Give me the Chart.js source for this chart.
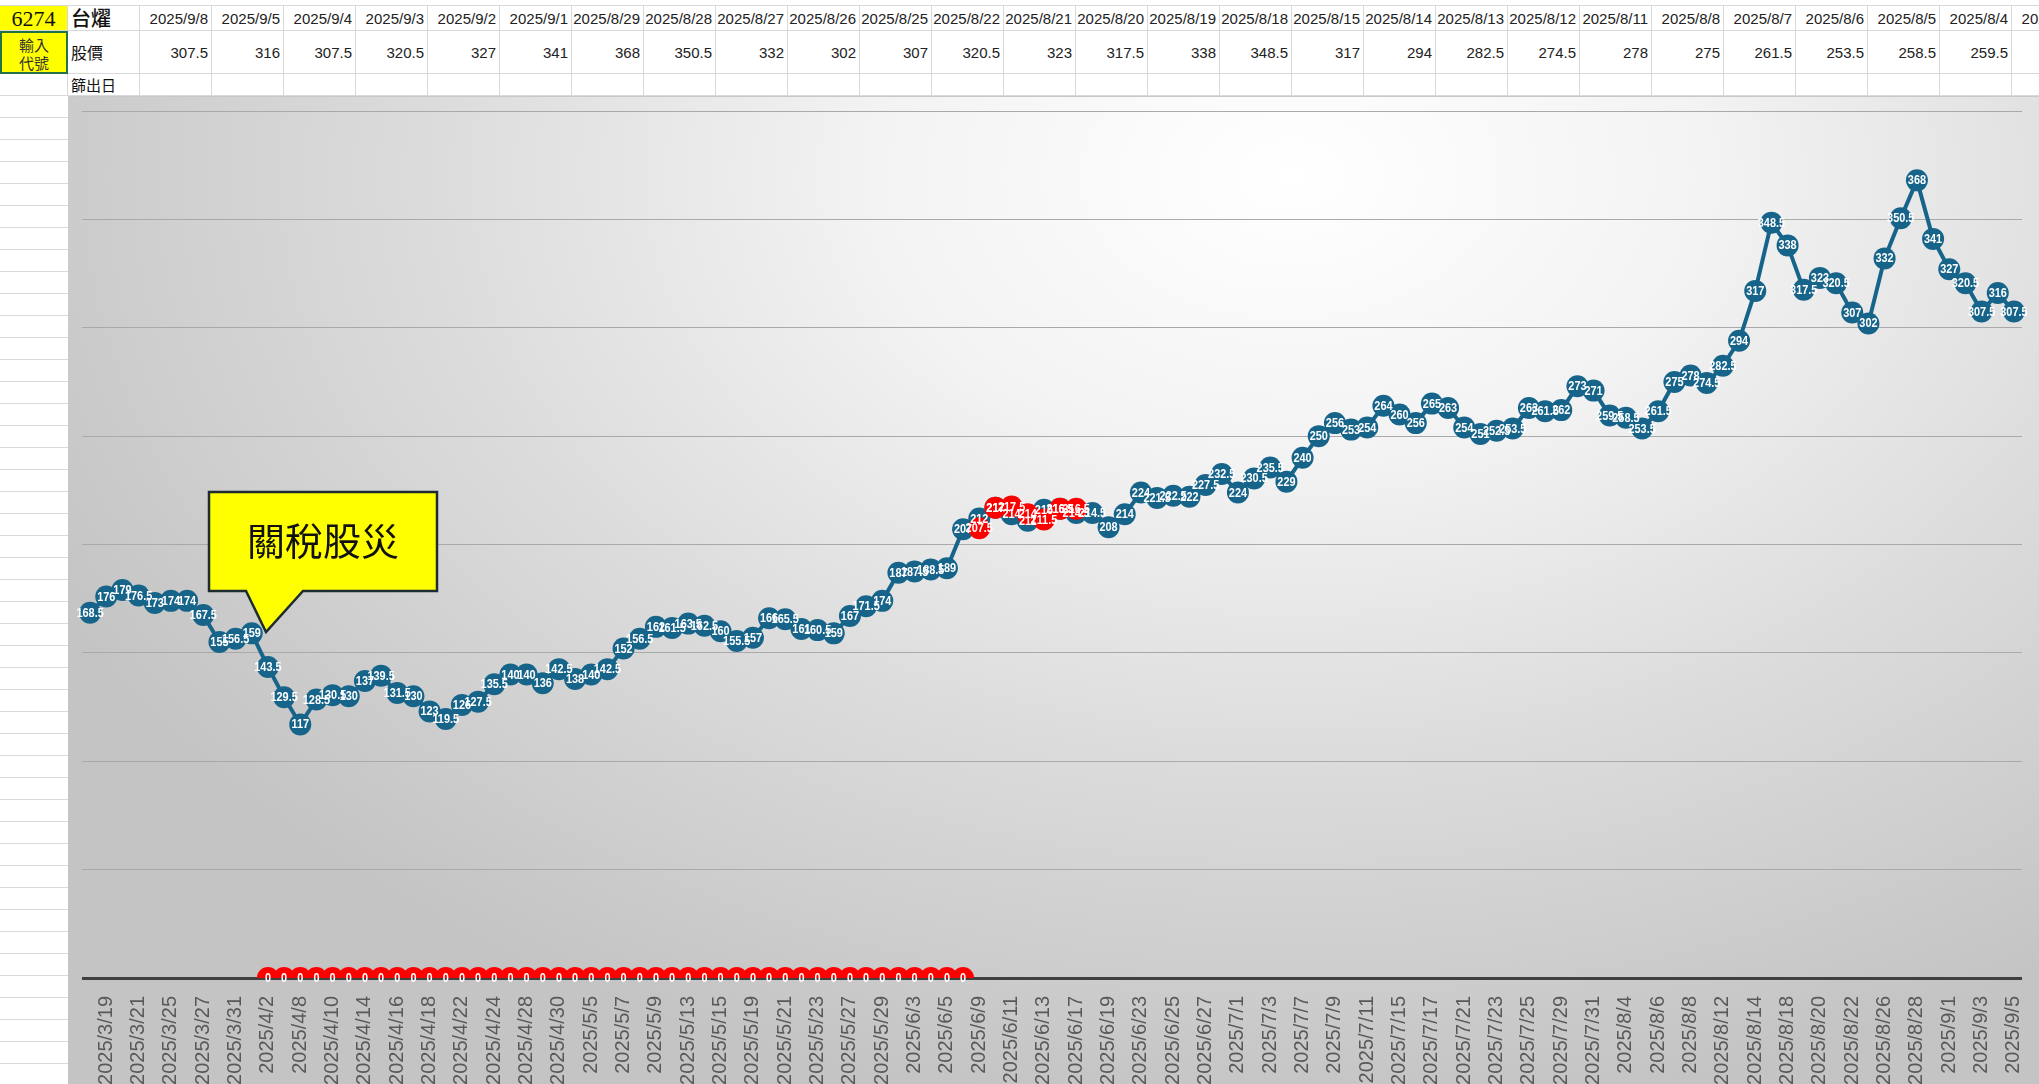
<!DOCTYPE html>
<html>
<head>
<meta charset="utf-8">
<script src="https://cdn.jsdelivr.net/npm/chart.js@4.4.1/dist/chart.umd.min.js"></script>
<style>
  html, body { margin: 0; padding: 0; background: #fff; overflow: hidden; }
  body { width: 2039px; height: 1084px; position: relative; font-family: "Liberation Sans", Arial, sans-serif; }
  .cell { position: absolute; box-sizing: border-box; border-right: 1px solid #d9d9d9; border-bottom: 1px solid #d9d9d9; white-space: nowrap; overflow: hidden; }
  .num { text-align: right; padding-right: 3px; font-family: "Liberation Sans", sans-serif; font-size: 15px; color: #222; }
  #leftcol { position: absolute; left: 0; top: 96px; width: 68px; height: 988px;
    background: repeating-linear-gradient(to bottom, #fff 0px, #fff 21px, #d9d9d9 21px, #d9d9d9 22px); }
  #chartbox { position: absolute; left: 68px; top: 96px; width: 1971px; height: 988px;
    background: radial-gradient(ellipse 70% 95% at 62% 8%, #ffffff 0%, #f3f3f3 30%, #dcdcdc 62%, #c4c4c4 100%);
    border-top: 1px solid #c8c8c8; box-sizing: border-box; }
  #callout { position: absolute; left: 0; top: 0; width: 2039px; height: 1084px; pointer-events: none; }
</style>
</head>
<body>
<div id="header"></div>
<div id="leftcol"></div>
<div id="chartbox"><canvas id="myChart" width="1971" height="987"></canvas></div>
<svg id="callout" width="2039" height="1084">
  <path d="M209,492 H437 V591 H303 L266,632 L246,591 H209 Z" fill="#ffff00" stroke="#1c2c30" stroke-width="2.5"/>
  <text x="323" y="555" text-anchor="middle" font-family="Noto Sans CJK TC" font-size="38" fill="#111">關稅股災</text>
</svg>
<script>
// 6274 台燿 daily close
var stockCode = "6274";
var stockName = "台燿";

var dates = [
  "2025/3/19","2025/3/20","2025/3/21","2025/3/24","2025/3/25","2025/3/26","2025/3/27","2025/3/28","2025/3/31",
  "2025/4/1","2025/4/2","2025/4/7","2025/4/8","2025/4/9","2025/4/10","2025/4/11","2025/4/14","2025/4/15","2025/4/16",
  "2025/4/17","2025/4/18","2025/4/21","2025/4/22","2025/4/23","2025/4/24","2025/4/25","2025/4/28","2025/4/29","2025/4/30",
  "2025/5/2","2025/5/5","2025/5/6","2025/5/7","2025/5/8","2025/5/9","2025/5/12","2025/5/13","2025/5/14","2025/5/15",
  "2025/5/16","2025/5/19","2025/5/20","2025/5/21","2025/5/22","2025/5/23","2025/5/26","2025/5/27","2025/5/28","2025/5/29",
  "2025/6/2","2025/6/3","2025/6/4","2025/6/5","2025/6/6","2025/6/9","2025/6/10","2025/6/11","2025/6/12","2025/6/13",
  "2025/6/16","2025/6/17","2025/6/18","2025/6/19","2025/6/20","2025/6/23","2025/6/24","2025/6/25","2025/6/26","2025/6/27",
  "2025/6/30","2025/7/1","2025/7/2","2025/7/3","2025/7/4","2025/7/7","2025/7/8","2025/7/9","2025/7/10","2025/7/11",
  "2025/7/14","2025/7/15","2025/7/16","2025/7/17","2025/7/18","2025/7/21","2025/7/22","2025/7/23","2025/7/24","2025/7/25",
  "2025/7/28","2025/7/29","2025/7/30","2025/7/31","2025/8/1","2025/8/4","2025/8/5","2025/8/6","2025/8/7","2025/8/8",
  "2025/8/11","2025/8/12","2025/8/13","2025/8/14","2025/8/15","2025/8/18","2025/8/19","2025/8/20","2025/8/21","2025/8/22",
  "2025/8/25","2025/8/26","2025/8/27","2025/8/28","2025/8/29","2025/9/1","2025/9/2","2025/9/3","2025/9/4","2025/9/5",
  "2025/9/8"
];

var prices = [
  168.5,176,179,176.5,173,174,174,167.5,155,
  156.5,159,143.5,129.5,117,128.5,130.5,130,137,139.5,
  131.5,130,123,119.5,126,127.5,135.5,140,140,136,
  142.5,138,140,142.5,152,156.5,162,161.5,163.5,162.5,
  160,155.5,157,166,165.5,161,160.5,159,167,171.5,
  174,187,187.5,188.5,189,207,212,217,214,211,
  216,216.5,214.5,214.5,208,214,224,221.5,222.5,222,
  227.5,232.5,224,230.5,235.5,229,240,250,256,253,
  254,264,260,256,265,263,254,251,252.5,253.5,
  263,261.5,262,273,271,259.5,258.5,253.5,261.5,275,
  278,274.5,282.5,294,317,348.5,338,317.5,323,320.5,
  307,302,332,350.5,368,341,327,320.5,307.5,316,
  307.5
];

// 篩出日 markers (red)
var picks = [
  null,null,null,null,null,null,null,null,null,
  null,null,0,0,0,0,0,0,0,0,
  0,0,0,0,0,0,0,0,0,0,
  0,0,0,0,0,0,0,0,0,0,
  0,0,0,0,0,0,0,0,0,0,
  0,0,0,0,0,0,207.5,217,217.5,214,
  211.5,216.5,216.5,null,null,null,null,null,null,null,
  null,null,null,null,null,null,null,null,null,null,
  null,null,null,null,null,null,null,null,null,null,
  null,null,null,null,null,null,null,null,null,null,
  null,null,null,null,null,null,null,null,null,null,
  null,null,null,null,null,null,null,null,null,null,
  null
];

var yMin = 0, yMax = 400, yStep = 50;

// ---- spreadsheet header rows ----
var header = document.getElementById("header");
function addCell(left, top, w, h, html, style) {
  var d = document.createElement("div");
  d.className = "cell";
  d.style.left = left + "px"; d.style.top = top + "px";
  d.style.width = w + "px"; d.style.height = h + "px";
  if (style) d.style.cssText += style;
  d.innerHTML = html;
  header.appendChild(d);
  return d;
}
// top border line
addCell(0, 0, 2039, 6, "", "border-right:none;");

addCell(0, 6, 68, 25, stockCode, "background:#ffff00;font-family:'Liberation Serif';font-size:22px;line-height:25px;text-align:center;color:#111;");
addCell(68, 6, 72, 25, stockName, "font-family:'Noto Sans CJK TC';font-size:20px;line-height:24px;padding-left:3px;color:#111;font-weight:500;");
addCell(0, 31, 68, 43, "輸入<br>代號", "background:#ffff00;font-family:'Noto Sans CJK TC';font-size:15px;line-height:18px;text-align:center;padding-top:3px;color:#333;border:2px solid #217346;");
addCell(68, 31, 72, 43, "股價", "font-family:'Noto Sans CJK TC';font-size:16px;line-height:43px;padding-left:3px;color:#111;");
addCell(0, 74, 68, 22, "", "");
addCell(68, 74, 72, 22, "篩出日", "font-family:'Noto Sans CJK TC';font-size:15px;line-height:21px;padding-left:3px;color:#111;");

var headerDates = dates.slice(-27).reverse();
var headerPrices = prices.slice(-27).reverse();
for (var i = 0; i < headerDates.length; i++) {
  var x = 140 + i * 72;
  addCell(x, 6, 72, 25, headerDates[i], "line-height:25px;").classList.add("num");
  addCell(x, 31, 72, 43, String(headerPrices[i]), "line-height:43px;").classList.add("num");
  addCell(x, 74, 72, 22, "", "");
}

// ---- value labels drawn on the markers (slightly condensed) ----
var pointLabels = {
  id: "pointLabels",
  afterDatasetsDraw: function (chart) {
    var ctx = chart.ctx;
    ctx.save();
    ctx.font = 'bold 13px "Liberation Sans", Arial, sans-serif';
    ctx.fillStyle = "#ffffff";
    ctx.textAlign = "center";
    ctx.textBaseline = "middle";
    [1, 0].forEach(function (di) {
      var meta = chart.getDatasetMeta(di);
      var data = chart.data.datasets[di].data;
      meta.data.forEach(function (pt, i) {
        if (data[i] === null || data[i] === undefined) return;
        ctx.save();
        ctx.translate(pt.x, pt.y + 0.5);
        ctx.scale(0.84, 1);
        ctx.fillText(String(data[i]), 0, 0);
        ctx.restore();
      });
    });
    ctx.restore();
  }
};

var ctx = document.getElementById("myChart").getContext("2d");
var myChart = new Chart(ctx, {
  type: "line",
  data: {
    labels: dates,
    datasets: [
      {
        label: "篩出日",
        data: picks,
        showLine: false,
        pointRadius: 11,
        pointBackgroundColor: "#ff0000",
        pointBorderColor: "#ff0000",
        pointBorderWidth: 0,
        borderColor: "#ff0000"
      },
      {
        label: "股價",
        data: prices,
        borderColor: "#17648a",
        borderWidth: 4,
        tension: 0,
        pointRadius: 11,
        pointBackgroundColor: "#17648a",
        pointBorderColor: "#17648a",
        pointBorderWidth: 0
      }
    ]
  },
  options: {
    responsive: false,
    animation: false,
    devicePixelRatio: 1,
    layout: { padding: { left: 14, right: 17, top: 14, bottom: 0 } },
    plugins: { legend: { display: false }, tooltip: { enabled: false } },
    scales: {
      x: {
        offset: true,
        grid: { display: false },
        border: { display: false },
        ticks: {
          autoSkip: false,
          minRotation: 90,
          maxRotation: 90,
          padding: 10,
          labelOffset: 16,
          color: "#595959",
          font: { size: 20, family: '"Liberation Sans", Arial, sans-serif' },
          callback: function (v, i) { return i % 2 === 0 ? this.getLabelForValue(v) : ""; }
        },
        afterFit: function (s) {
          s.height = 106;
          s.paddingLeft = 0;
          s.paddingRight = 0;
        }
      },
      y: {
        min: yMin,
        max: yMax,
        ticks: { stepSize: yStep, display: false },
        border: { display: false },
        grid: {
          drawTicks: false,
          color: function (c) { return c.tick.value === 0 ? "#404040" : "#a9a9a9"; },
          lineWidth: function (c) { return c.tick.value === 0 ? 3 : 1; }
        },
        afterFit: function (s) { s.width = 0; }
      }
    }
  },
  plugins: [pointLabels]
});
</script>
</body>
</html>
